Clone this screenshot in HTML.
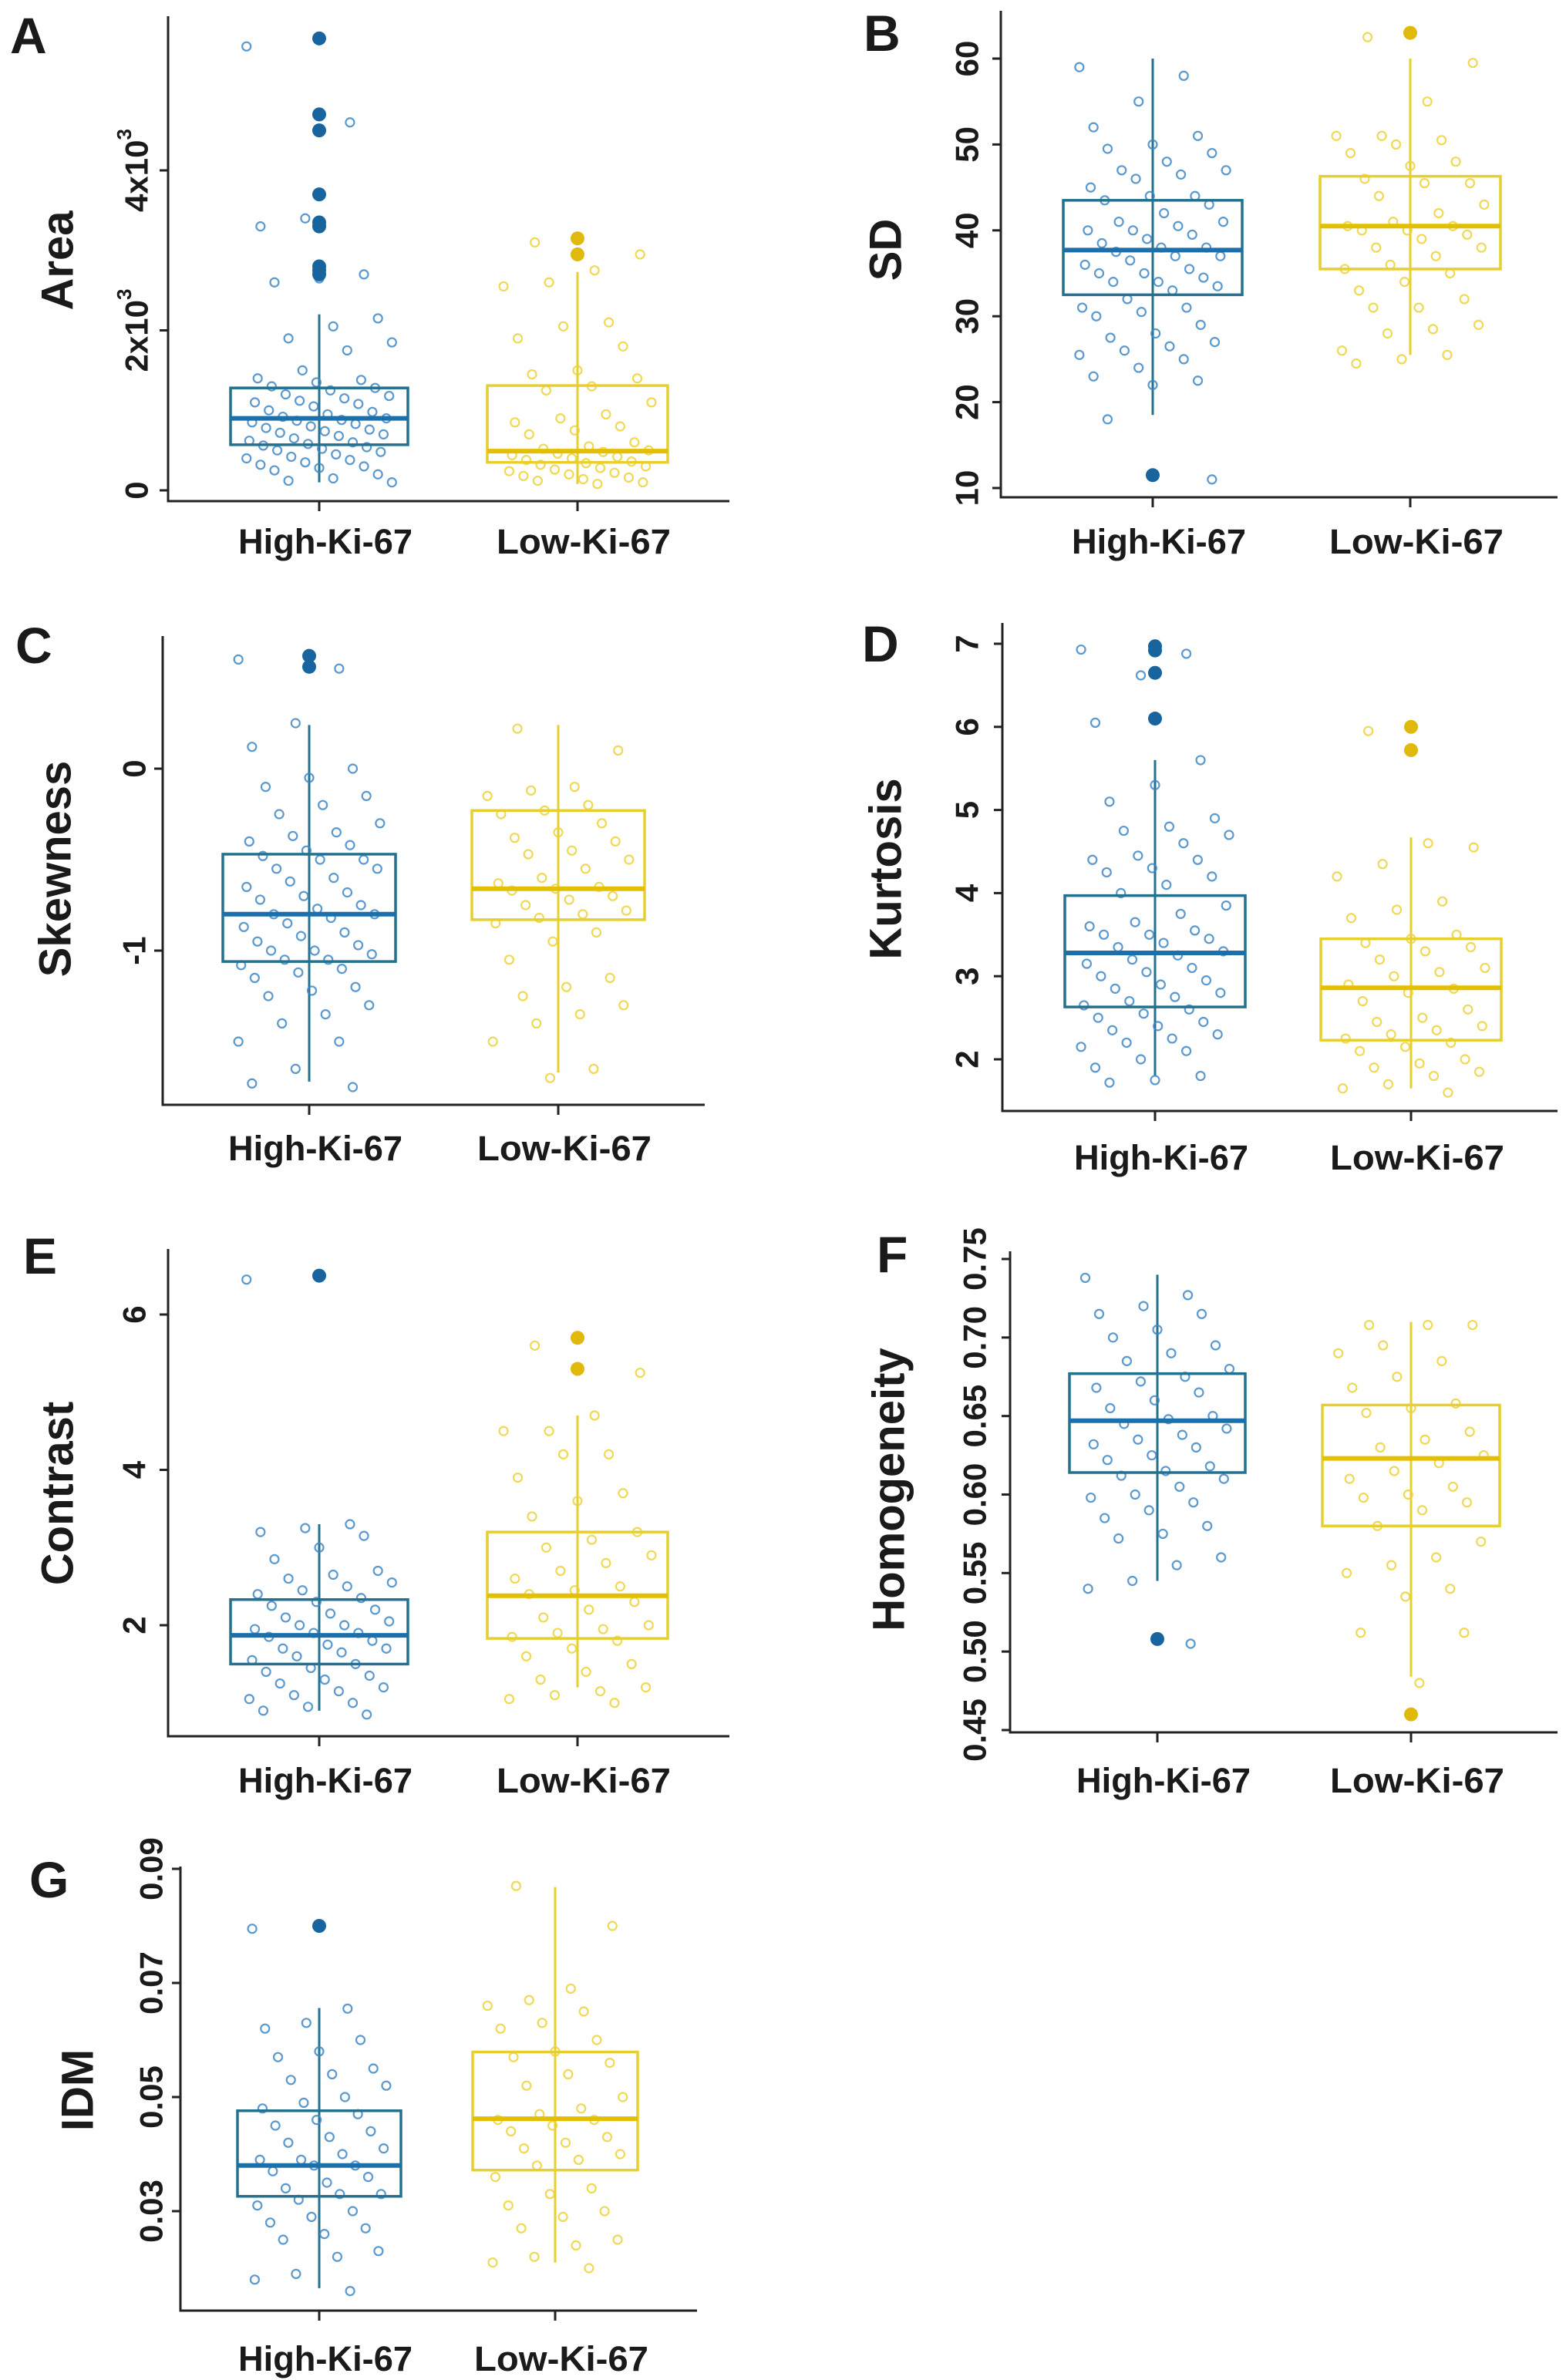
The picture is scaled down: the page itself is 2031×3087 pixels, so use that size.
<!DOCTYPE html>
<html><head><meta charset="utf-8"><style>
html,body{margin:0;padding:0;background:#fff}
svg{display:block}
text{font-family:"Liberation Sans",Arial,sans-serif;font-weight:bold;fill:#1a1a1a}
</style></head>
<body>
<svg id="fig" width="2031" height="3087" viewBox="0 0 2031 3087" xmlns="http://www.w3.org/2000/svg"></svg>
<script>
// ---------- DATA ----------
const groups = ["High-Ki-67","Low-Ki-67"];
// box stats: [whiskerLow, Q1, median, Q3, whiskerHigh]
const statsA_high=[100,570,900,1280,2200], statsA_low=[80,350,490,1310,2730];
const statsB_high=[18.5,32.5,37.7,43.5,60], statsB_low=[25.5,35.5,40.5,46.3,60];
const statsC_high=[-1.72,-1.06,-0.80,-0.47,0.24], statsC_low=[-1.67,-0.83,-0.66,-0.23,0.24];
const statsD_high=[1.8,2.63,3.28,3.97,5.6], statsD_low=[1.65,2.23,2.86,3.45,4.67];
const statsE_high=[0.9,1.5,1.87,2.33,3.3], statsE_low=[1.2,1.83,2.38,3.2,4.7];
const statsF_high=[0.545,0.614,0.647,0.677,0.74], statsF_low=[0.484,0.58,0.623,0.657,0.71];
const statsG_high=[0.0165,0.0326,0.038,0.0476,0.0656], statsG_low=[0.021,0.0372,0.0462,0.0579,0.0868];
// filled outliers
const outA_high=[5650,4700,4500,3700,3350,3300,2800,2750,2700], outA_low=[3150,2950];
const outB_high=[11.5], outB_low=[63];
const outC_high=[0.62,0.56], outC_low=[];
const outD_high=[6.97,6.92,6.65,6.1], outD_low=[6.0,5.72];
const outE_high=[6.5], outE_low=[5.7,5.3];
const outF_high=[0.508], outF_low=[0.46];
const outG_high=[0.08], outG_low=[];
// jittered points
const ptsA_high=[5550,4600,3400,3300,2700,2650,2600,2150,2050,1900,1850,1750,1500,1400,1380,1350,1300,1280,1250,1200,1180,1150,1120,1100,1080,1050,1000,980,950,920,900,880,870,850,830,800,780,760,740,720,700,680,650,620,600,580,560,540,520,500,480,450,420,400,380,350,320,300,280,250,200,150,120,100];
const ptsA_low=[3100,2950,2750,2600,2550,2100,2050,1900,1800,1500,1450,1400,1300,1250,1100,950,900,850,800,750,700,600,550,520,500,480,460,440,420,400,380,360,340,320,300,280,260,240,220,200,180,160,140,120,100,80];
const ptsB_high=[59,58,55,52,51,50,49.5,49,48,47,47,46.5,46,45,44,44,43.5,43,42,41,41,40.5,40,40,39.5,39,38.5,38,38,37.5,37,37,36.5,36,35.5,35,35,34.5,34,34,33.5,33,32,31,31,30.5,30,29,28,27.5,27,26.5,26,25.5,25,24,23,22.5,22,18,11];
const ptsB_low=[62.5,59.5,55,51,51,50.5,50,49,48,47.5,46,45.5,45.5,44,43,42,41,40.5,40.5,40,40,39.5,39,38,38,37,36,35.5,35,34,33,32,31,31,29,28.5,28,26,25.5,25,24.5];
const ptsC_high=[0.6,0.55,0.25,0.12,0,-0.05,-0.1,-0.15,-0.2,-0.25,-0.3,-0.35,-0.37,-0.4,-0.42,-0.45,-0.48,-0.5,-0.5,-0.55,-0.55,-0.6,-0.62,-0.65,-0.68,-0.7,-0.72,-0.75,-0.77,-0.8,-0.8,-0.82,-0.85,-0.87,-0.9,-0.92,-0.95,-0.97,-1,-1,-1.02,-1.05,-1.05,-1.08,-1.1,-1.12,-1.15,-1.2,-1.22,-1.25,-1.3,-1.35,-1.4,-1.5,-1.5,-1.65,-1.73,-1.75];
const ptsC_low=[0.22,0.1,-0.1,-0.12,-0.15,-0.2,-0.23,-0.25,-0.3,-0.35,-0.38,-0.4,-0.45,-0.47,-0.5,-0.55,-0.6,-0.63,-0.65,-0.66,-0.67,-0.7,-0.72,-0.75,-0.78,-0.8,-0.82,-0.85,-0.9,-0.95,-1.05,-1.15,-1.2,-1.25,-1.3,-1.35,-1.4,-1.5,-1.65,-1.7];
const ptsD_high=[6.93,6.88,6.62,6.05,5.6,5.3,5.1,4.9,4.8,4.75,4.7,4.6,4.45,4.4,4.4,4.3,4.25,4.2,4.1,4.0,3.85,3.75,3.65,3.6,3.55,3.5,3.5,3.45,3.4,3.35,3.3,3.25,3.2,3.15,3.1,3.05,3.0,2.95,2.9,2.85,2.8,2.75,2.7,2.65,2.6,2.55,2.5,2.45,2.4,2.35,2.3,2.25,2.2,2.15,2.1,2.0,1.9,1.8,1.75,1.72];
const ptsD_low=[5.95,4.55,4.6,4.35,4.2,3.9,3.8,3.7,3.5,3.45,3.4,3.35,3.3,3.2,3.1,3.05,3.0,2.9,2.85,2.8,2.7,2.6,2.5,2.45,2.4,2.35,2.3,2.25,2.2,2.15,2.1,2.0,1.95,1.9,1.85,1.8,1.7,1.65,1.6];
const ptsE_high=[6.45,3.3,3.25,3.2,3.15,3.0,2.85,2.7,2.65,2.6,2.55,2.5,2.45,2.4,2.35,2.3,2.25,2.2,2.15,2.1,2.05,2.0,2.0,1.95,1.9,1.9,1.85,1.8,1.75,1.7,1.7,1.65,1.6,1.55,1.5,1.45,1.4,1.35,1.3,1.25,1.2,1.15,1.1,1.05,1.0,0.95,0.9,0.85];
const ptsE_low=[5.6,5.25,4.7,4.5,4.5,4.2,4.2,3.9,3.7,3.6,3.4,3.2,3.1,3.0,2.9,2.8,2.7,2.6,2.5,2.45,2.4,2.3,2.2,2.1,2.0,1.95,1.9,1.85,1.8,1.7,1.6,1.5,1.4,1.3,1.2,1.15,1.1,1.05,1.0];
const ptsF_high=[0.738,0.727,0.72,0.715,0.715,0.705,0.7,0.695,0.69,0.685,0.68,0.675,0.672,0.668,0.665,0.66,0.655,0.65,0.648,0.645,0.642,0.638,0.635,0.632,0.63,0.625,0.622,0.618,0.615,0.612,0.61,0.605,0.6,0.598,0.595,0.59,0.585,0.58,0.575,0.572,0.56,0.555,0.545,0.54,0.505];
const ptsF_low=[0.708,0.708,0.708,0.695,0.69,0.685,0.675,0.668,0.658,0.655,0.652,0.64,0.635,0.63,0.625,0.62,0.615,0.61,0.605,0.6,0.598,0.595,0.59,0.58,0.57,0.56,0.555,0.55,0.54,0.535,0.512,0.512,0.48];
const ptsG_high=[0.0795,0.0655,0.063,0.062,0.06,0.058,0.057,0.055,0.054,0.053,0.052,0.05,0.049,0.048,0.047,0.046,0.045,0.044,0.043,0.042,0.041,0.04,0.039,0.039,0.038,0.038,0.037,0.036,0.035,0.034,0.033,0.033,0.032,0.031,0.03,0.029,0.028,0.027,0.026,0.025,0.023,0.022,0.019,0.018,0.016];
const ptsG_low=[0.087,0.08,0.069,0.067,0.066,0.065,0.063,0.062,0.06,0.058,0.057,0.056,0.054,0.052,0.05,0.048,0.047,0.046,0.046,0.045,0.044,0.043,0.042,0.041,0.04,0.039,0.038,0.036,0.034,0.033,0.031,0.03,0.029,0.027,0.025,0.024,0.022,0.021,0.02];
// tick values / labels
const ticksA=[0,2000,4000], tickLabelsA=["0","2x10|3","4x10|3"];
const ticksB=[10,20,30,40,50,60], tickLabelsB=["10","20","30","40","50","60"];
const ticksC=[-1,0], tickLabelsC=["-1","0"];
const ticksD=[2,3,4,5,6,7], tickLabelsD=["2","3","4","5","6","7"];
const ticksE=[2,4,6], tickLabelsE=["2","4","6"];
const ticksF=[0.45,0.5,0.55,0.6,0.65,0.7,0.75], tickLabelsF=["0.45","0.50","0.55","0.60","0.65","0.70","0.75"];
const ticksG=[0.03,0.05,0.07,0.09], tickLabelsG=["0.03","0.05","0.07","0.09"];

// ---------- LAYOUT ----------
const panels=[
 {id:"a",letter:"A",title:"Area",ax:218,top:21,bot:650,right:946,v1:0,y1:636,v2:4000,y2:221,gx:[414,749],hw:[115,117],tlx:177,ttx:75,tty:338,lx:13,ly:69,xl:718,
  stats:[statsA_high,statsA_low],outs:[outA_high,outA_low],pts:[ptsA_high,ptsA_low],ticks:ticksA,labels:tickLabelsA},
 {id:"b",letter:"B",title:"SD",ax:1298,top:14,bot:645,right:2020,v1:60,y1:76,v2:10,y2:633,gx:[1495,1829],hw:[116,117],tlx:1254,ttx:1149,tty:324,lx:1120,ly:66,xl:718,
  stats:[statsB_high,statsB_low],outs:[outB_high,outB_low],pts:[ptsB_high,ptsB_low],ticks:ticksB,labels:tickLabelsB},
 {id:"c",letter:"C",title:"Skewness",ax:211,top:825,bot:1433,right:914,v1:0,y1:997,v2:-1,y2:1233,gx:[401,724],hw:[112,112],tlx:174,ttx:72,tty:1127,lx:20,ly:860,xl:1505,
  stats:[statsC_high,statsC_low],outs:[outC_high,outC_low],pts:[ptsC_high,ptsC_low],ticks:ticksC,labels:tickLabelsC},
 {id:"d",letter:"D",title:"Kurtosis",ax:1300,top:808,bot:1441,right:2020,v1:7,y1:835,v2:2,y2:1374,gx:[1498,1830],hw:[117,117],tlx:1254,ttx:1149,tty:1127,lx:1118,ly:858,xl:1517,
  stats:[statsD_high,statsD_low],outs:[outD_high,outD_low],pts:[ptsD_high,ptsD_low],ticks:ticksD,labels:tickLabelsD},
 {id:"e",letter:"E",title:"Contrast",ax:218,top:1620,bot:2252,right:946,v1:6,y1:1705,v2:2,y2:2108,gx:[414,749],hw:[115,117],tlx:174,ttx:75,tty:1937,lx:30,ly:1652,xl:2325,
  stats:[statsE_high,statsE_low],outs:[outE_high,outE_low],pts:[ptsE_high,ptsE_low],ticks:ticksE,labels:tickLabelsE},
 {id:"f",letter:"F",title:"Homogeneity",ax:1310,top:1623,bot:2247,right:2020,v1:0.75,y1:1633,v2:0.45,y2:2244,gx:[1501,1830],hw:[114,115],tlx:1264,ttx:1153,tty:1932,lx:1137,ly:1650,xl:2325,
  stats:[statsF_high,statsF_low],outs:[outF_high,outF_low],pts:[ptsF_high,ptsF_low],ticks:ticksF,labels:tickLabelsF},
 {id:"g",letter:"G",title:"IDM",ax:234,top:2421,bot:2997,right:904,v1:0.09,y1:2424,v2:0.03,y2:2868,gx:[414,720],hw:[106,107],tlx:196,ttx:101,tty:2711,lx:38,ly:2461,xl:3075,
  stats:[statsG_high,statsG_low],outs:[outG_high,outG_low],pts:[ptsG_high,ptsG_low],ticks:ticksG,labels:tickLabelsG}
];
const boxCol=["#24708f","#e6cf2e"], medCol=["#1b6fab","#e3bf00"], ptCol=["#3f87c6","#ecd23a"], outCol=["#17649e","#e0b90a"];

const NS="http://www.w3.org/2000/svg";
const svg=document.getElementById("fig");
function mk(tag,attrs,parent){const e=document.createElementNS(NS,tag);for(const k in attrs)e.setAttribute(k,attrs[k]);(parent||svg).appendChild(e);return e;}

panels.forEach(p=>{
  const g=mk("g",{});
  
  
  const ys=v=>p.y1+(v-p.v1)*(p.y2-p.y1)/(p.v2-p.v1);
  // letter
  const L=mk("text",{x:p.lx,y:p.ly,"font-size":66},g);L.textContent=p.letter;
  
  
  // y title
  const T=mk("text",{x:p.ttx,y:p.tty,"font-size":58,"text-anchor":"middle","dominant-baseline":"central",transform:`rotate(-90 ${p.ttx} ${p.tty})`},g);T.textContent=p.title;
  
  
  // axes
  const ya=mk("line",{x1:p.ax,y1:p.top,x2:p.ax,y2:p.bot+1.5,stroke:"#222","stroke-width":3},g);
  
  
  const xa=mk("line",{x1:p.ax-1.5,y1:p.bot,x2:p.right,y2:p.bot,stroke:"#222","stroke-width":3},g);
  
  
  // y ticks
  p.ticks.forEach((v,i)=>{
    const y=ys(v);
    const tk=mk("line",{x1:p.ax-11,y1:y,x2:p.ax,y2:y,stroke:"#222","stroke-width":3},g);
    
    
    const t=mk("text",{x:p.tlx,y:y,"font-size":42,"text-anchor":"middle","dominant-baseline":"central",transform:`rotate(-90 ${p.tlx} ${y})`},g);
    const parts=p.labels[i].split("|");
    t.textContent=parts[0];
    if(parts[1]){const s=mk("tspan",{"font-size":26,dy:-16},t);s.textContent=parts[1];}
    
    
  });
  // groups
  groups.forEach((name,gi)=>{
    const cx=p.gx[gi], hw=p.hw[gi], st=p.stats[gi];
    const xt=mk("line",{x1:cx,y1:p.bot,x2:cx,y2:p.bot+13,stroke:"#222","stroke-width":3},g);
    
    
    const xl=mk("text",{x:cx+8,y:p.xl,"font-size":45,"text-anchor":"middle",textLength:226,lengthAdjust:"spacingAndGlyphs"},g);
    xl.textContent=name;
    
    
    // whisker
    const wh=mk("line",{x1:cx,y1:ys(st[0]),x2:cx,y2:ys(st[4]),stroke:boxCol[gi],"stroke-width":3},g);
    
    
    // points
    p.pts[gi].forEach((v,i)=>{
      const j=(((i*37+gi*11)%53)/52-0.5)*2*hw*0.82;
      const c=mk("circle",{cx:cx+j,cy:ys(v),r:5.5,fill:"none",stroke:ptCol[gi],"stroke-width":2.2,opacity:0.85},g);
      
      
    });
    // box
    const yq3=ys(st[3]), yq1=ys(st[1]);
    const bx=mk("rect",{x:cx-hw,y:Math.min(yq1,yq3),width:2*hw,height:Math.abs(yq1-yq3),fill:"none",stroke:boxCol[gi],"stroke-width":3.5},g);
    
    
    const md=mk("line",{x1:cx-hw,y1:ys(st[2]),x2:cx+hw,y2:ys(st[2]),stroke:medCol[gi],"stroke-width":6},g);
    
    
    // outliers
    p.outs[gi].forEach(v=>{
      const o=mk("circle",{cx:cx,cy:ys(v),r:9,fill:outCol[gi]},g);
      
      
    });
  });
});
</script>
</body></html>
